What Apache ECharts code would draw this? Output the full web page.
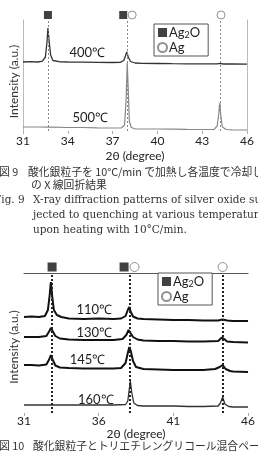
<!DOCTYPE html>
<html><head><meta charset="utf-8">
<script src="https://cdn.jsdelivr.net/npm/echarts@6/dist/echarts.min.js"></script>
<style>html,body{margin:0;padding:0;background:#fff}#c{width:258px;height:455px}</style>
</head><body><div id="c"></div>
<script>
// ---------- data (2θ in degrees, intensity in arbitrary units incl. vertical offset) ----------
const s400 = [[31,69],[31.5,69.3],[32,69],[32.3,69.8],[32.5,74],[32.6,88],[32.67,103],[32.75,90],[32.85,76],[33,70.5],[33.5,69.2],[34,69],[35,68.8],[36,68.6],[37,68.5],[37.5,68.7],[37.75,70.5],[37.88,76],[37.95,79],[38.05,74],[38.2,69.5],[38.5,68],[39,67.6],[40,67.5],[41,67.3],[42,67.2],[43,67.2],[44,67.1],[44.2,67.6],[44.4,67],[45,67],[46,66.8]];
const s500 = [[31,4],[32,4],[32.7,3.8],[33,3.8],[34,3.5],[35,3.5],[36,3.2],[37,3],[37.6,3.2],[37.8,6],[37.9,30],[37.98,68],[38.05,40],[38.12,10],[38.25,3.5],[38.5,2.2],[39,2],[40,2],[41,1.8],[42,1.6],[43,1.5],[43.8,1.7],[44,5],[44.1,16],[44.17,28],[44.25,15],[44.35,4],[44.6,1.5],[45,1.2],[46,1]];
const s110 = [[31,96],[31.5,96.5],[32,96],[32.4,97],[32.6,103],[32.72,118],[32.8,131],[32.88,118],[33,103],[33.2,98],[33.5,96],[34,94.5],[35,94],[36,94.5],[37,94],[37.5,94.5],[37.8,97],[37.95,103],[38.05,106],[38.15,101],[38.3,96.5],[38.6,94.5],[39,94],[40,93.5],[41,93],[42,93],[43,92.5],[44,92.5],[44.3,93.5],[44.6,92.5],[45,92],[46,92]];
const s130 = [[31,76],[31.5,76],[32,76],[32.5,77],[32.7,82],[32.8,85],[32.9,83],[33.1,77],[33.4,74.5],[34,73.5],[35,73],[36,73],[37,73],[37.6,74],[37.85,78],[38,83],[38.1,81],[38.3,76],[38.6,73.5],[39,72.5],[40,72],[41,72],[42,71.5],[43,71.5],[44,72],[44.25,75.5],[44.4,74],[44.6,71.5],[45,71],[46,70.5]];
const s145 = [[31,48],[31.5,48],[32,47.5],[32.5,48.5],[32.7,54],[32.8,58],[32.9,54],[33.1,47.5],[33.4,45.5],[34,45],[35,44.5],[36,44.5],[37,44.5],[37.5,45],[37.8,50],[37.95,60],[38.05,66],[38.15,62],[38.3,52],[38.5,46],[39,44],[40,43.5],[41,43],[42,43],[43,43],[43.8,44],[44.1,46],[44.3,48],[44.5,44],[44.8,42],[45,41.5],[46,41]];
const s160 = [[31,8],[32,8],[33,8],[34,8],[35,8],[36,8],[37,8],[37.8,8.5],[37.95,12],[38.05,24],[38.12,32],[38.22,20],[38.35,10],[38.6,7.5],[39,7],[40,7],[41,7],[42,6.5],[43,6.5],[44,7],[44.15,10],[44.3,16],[44.45,9],[44.7,6.5],[45,6],[46,6]];

const refLinesTop = [32.7, 37.95, 44.2];
const refLinesBottom = [32.85, 38.1, 44.3];
const ag2oTop = [[32.67,116],[37.71,116]];
const agTop = [[38.31,116],[44.26,116]];
const ag2oBottom = [[32.88,146],[37.7,146]];
const agBottom = [[38.4,146],[44.3,146]];

const labelsTop = [['400℃',35.3,78],['500℃',35.5,13]];
const labelsBottom = [['110℃',35.7,103],['130℃',35.7,80],['145℃',35.25,53],['160℃',35.8,13]];

const xTicksTop = [31,34,37,40,43,46];
const xTicksBottom = [31,36,41,46];

// ---------- chart ----------
const FONT = 'Lato, "Open Sans", sans-serif';
const SERIF = '"DejaVu Serif", serif';
const JP = '"Noto Sans CJK JP", sans-serif';

function xAxisBase(grid, ticks, gap, margin){
  return {
    gridIndex: grid, type: 'value', min: ticks[0], max: ticks[ticks.length-1],
    interval: ticks[1]-ticks[0],
    axisLine: {show: false},
    axisTick: {show: true, length: 3, inside: false, lineStyle: {color: '#aaa'}},
    splitLine: {show: false},
    axisLabel: {fontFamily: FONT, fontSize: 12, color: '#222', margin: margin},
    name: '2θ (degree)', nameLocation: 'middle', nameGap: gap,
    nameTextStyle: {fontFamily: FONT, fontSize: 12, color: '#222'}
  };
}
function labelPoints(list){
  return {
    symbol: 'rect', symbolSize: 0, silent: true,
    label: {show: true, position: 'inside', formatter: '{b}', fontFamily: FONT, fontSize: 13, color: '#222'},
    data: list.map(l => ({name: l[0], coord: [l[1], l[2]]}))
  };
}
function refLines(list, style){
  return {
    symbol: ['none','none'], silent: true, label: {show: false},
    lineStyle: style, animation: false,
    data: list.map(v => ({xAxis: v}))
  };
}
function legendOf(left, top){
  return {
    left: left, top: top, orient: 'vertical', data: ['Ag2O','Ag'],
    itemWidth: 9, itemHeight: 9, itemGap: 1,
    padding: [2, 8, 2, 3],
    borderColor: '#555', borderWidth: 1, backgroundColor: '#fff',
    selectedMode: false,
    formatter: n => n === 'Ag2O' ? '{t|Ag}{s|2}{t|O}' : '{t|Ag}',
    textStyle: {
      padding: [0,0,0,-3],
      rich: {
        t: {fontFamily: FONT, fontSize: 13, color: '#222'},
        s: {fontFamily: FONT, fontSize: 9, color: '#222', padding: [6,0,0,0]}
      }
    }
  };
}

const chart = echarts.init(document.getElementById('c'), null, {renderer: 'canvas'});
chart.setOption({
  animation: false,
  backgroundColor: '#fff',
  grid: [
    {left: 22.7, right: 11, top: 20, height: 111},
    {left: 18, right: 3, top: 273, height: 140}
  ],
  xAxis: [
    xAxisBase(0, xTicksTop, 19, 4),
    xAxisBase(1, xTicksBottom, 11, 2),
    {gridIndex: 1, type: 'value', position: 'top', min: 31, max: 46,
     axisLine: {show: true, lineStyle: {color: '#555', width: 1}},
     axisTick: {show: false}, axisLabel: {show: false}, splitLine: {show: false}}
  ],
  yAxis: [
    {gridIndex: 0, type: 'value', min: 0, max: 111,
     axisLine: {show: true, lineStyle: {color: '#bbb'}}, axisTick: {show: false},
     axisLabel: {show: false}, splitLine: {show: false},
     name: 'Intensity (a.u.)', nameLocation: 'middle', nameGap: 3,
     nameTextStyle: {fontFamily: FONT, fontSize: 12, color: '#333', padding: [0, 12, 0, 0]}},
    {gridIndex: 0, type: 'value', min: 0, max: 111, position: 'right',
     axisLine: {show: true, lineStyle: {color: '#bbb'}}, axisTick: {show: false},
     axisLabel: {show: false}, splitLine: {show: false}},
    {gridIndex: 1, type: 'value', min: 0, max: 140,
     axisLine: {show: false}, axisTick: {show: false},
     axisLabel: {show: false}, splitLine: {show: false},
     name: 'Intensity (a.u.)', nameLocation: 'middle', nameGap: 4,
     nameTextStyle: {fontFamily: FONT, fontSize: 12, color: '#333', padding: [0, 8, 0, 0]}}
  ],
  legend: [legendOf(154, 24), legendOf(158, 273)],
  series: [
    {type: 'line', name: '400', xAxisIndex: 0, yAxisIndex: 0, data: s400, showSymbol: false,
     lineStyle: {color: '#333', width: 1.3},
     markLine: refLines(refLinesTop, {color: '#888', type: [2,2], width: 1}),
     markPoint: labelPoints([labelsTop[0]])},
    {type: 'line', name: '500', xAxisIndex: 0, yAxisIndex: 0, data: s500, showSymbol: false,
     lineStyle: {color: '#888', width: 1.2},
     markPoint: labelPoints([labelsTop[1]])},
    {type: 'scatter', name: 'Ag2O', xAxisIndex: 0, yAxisIndex: 0, data: ag2oTop, clip: false,
     symbol: 'rect', symbolSize: 8, itemStyle: {color: '#111'}},
    {type: 'scatter', name: 'Ag', xAxisIndex: 0, yAxisIndex: 0, data: agTop, clip: false,
     symbol: 'circle', symbolSize: 8, itemStyle: {color: '#fff', borderColor: '#777', borderWidth: 1}},

    {type: 'line', name: '110', xAxisIndex: 1, yAxisIndex: 2, data: s110, showSymbol: false,
     lineStyle: {color: '#111', width: 2},
     markLine: refLines(refLinesBottom, {color: '#222', type: [2,2], width: 2}),
     markPoint: labelPoints([labelsBottom[0]])},
    {type: 'line', name: '130', xAxisIndex: 1, yAxisIndex: 2, data: s130, showSymbol: false,
     lineStyle: {color: '#111', width: 2}, markPoint: labelPoints([labelsBottom[1]])},
    {type: 'line', name: '145', xAxisIndex: 1, yAxisIndex: 2, data: s145, showSymbol: false,
     lineStyle: {color: '#111', width: 2}, markPoint: labelPoints([labelsBottom[2]])},
    {type: 'line', name: '160', xAxisIndex: 1, yAxisIndex: 2, data: s160, showSymbol: false,
     lineStyle: {color: '#333', width: 1.3}, markPoint: labelPoints([labelsBottom[3]])},
    {type: 'scatter', name: 'Ag2O', xAxisIndex: 1, yAxisIndex: 2, data: ag2oBottom, clip: false,
     symbol: 'rect', symbolSize: 9, itemStyle: {color: '#111'}},
    {type: 'scatter', name: 'Ag', xAxisIndex: 1, yAxisIndex: 2, data: agBottom, clip: false,
     symbol: 'circle', symbolSize: 9, itemStyle: {color: '#fff', borderColor: '#777', borderWidth: 1}}
  ],
  graphic: [
    {type: 'text', x: -1, y: 172, style: {text: '図 9', font: '10.8px ' + JP, fill: '#333', verticalAlign: 'middle'}},
    {type: 'text', x: 28, y: 172, style: {text: '酸化銀粒子を 10°C/min で加熱し各温度で冷却した', font: '10.8px ' + JP, fill: '#333', verticalAlign: 'middle'}},
    {type: 'text', x: 31, y: 185, style: {text: 'の X 線回折結果', font: '10.8px ' + JP, fill: '#333', verticalAlign: 'middle'}},
    {type: 'text', x: -6, y: 200, style: {text: 'Fig. 9', font: '10.5px ' + SERIF, fill: '#333', verticalAlign: 'middle'}},
    {type: 'text', x: 33, y: 200, style: {text: 'X-ray diffraction patterns of silver oxide subjected', font: '10.5px ' + SERIF, fill: '#333', verticalAlign: 'middle'}},
    {type: 'text', x: 33, y: 215, style: {text: 'jected to quenching at various temperatures', font: '10.5px ' + SERIF, fill: '#333', verticalAlign: 'middle'}},
    {type: 'text', x: 33, y: 230, style: {text: 'upon heating with 10°C/min.', font: '10.5px ' + SERIF, fill: '#333', verticalAlign: 'middle'}},
    {type: 'text', x: -1, y: 446, style: {text: '図 10', font: '10.8px ' + JP, fill: '#333', verticalAlign: 'middle'}},
    {type: 'text', x: 33, y: 446, style: {text: '酸化銀粒子とトリエチレングリコール混合ペースト', font: '10.8px ' + JP, fill: '#333', verticalAlign: 'middle'}}
  ]
});
</script>
</body></html>
